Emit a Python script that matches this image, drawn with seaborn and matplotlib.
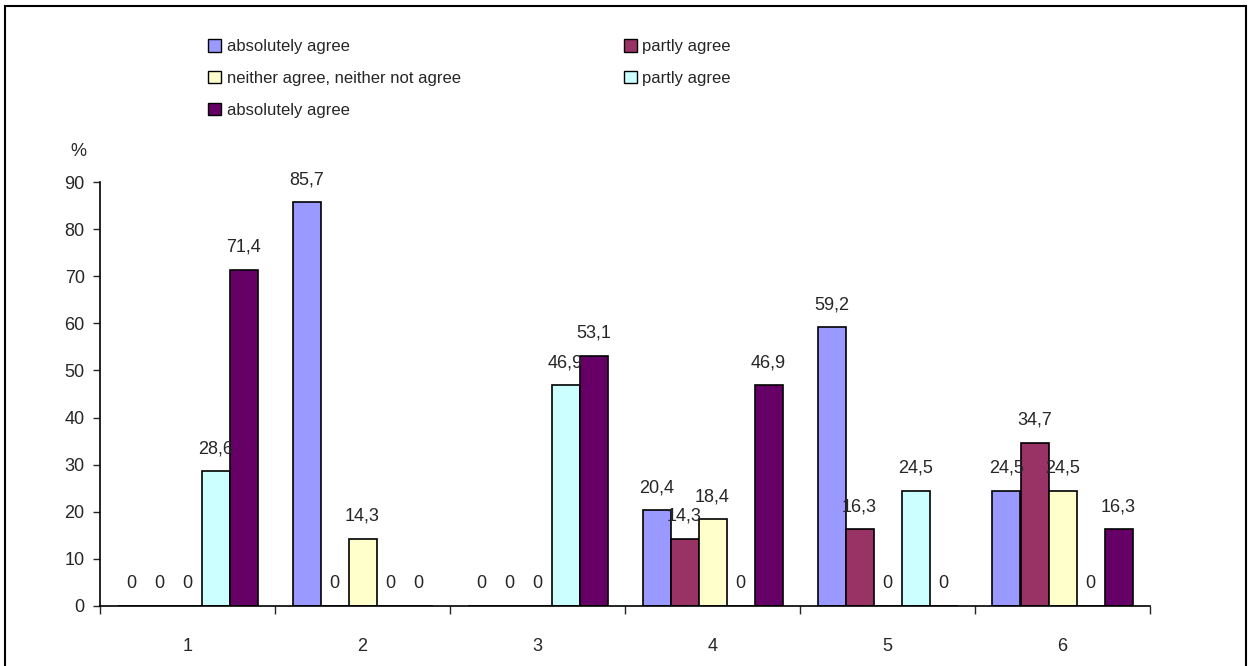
import pandas as pd
import matplotlib.pyplot as plt
import matplotlib.patches as mpatches
import seaborn as sns

groups = ['1', '2', '3', '4', '5', '6']
series_keys = ['s1', 's2', 's3', 's4', 's5']
series_labels = ['absolutely agree', 'partly agree', 'neither agree, neither not agree',
                 'partly agree', 'absolutely agree']
colors = ['#9999FF', '#993366', '#FFFFCC', '#CCFFFF', '#660066']

s1 = [0, 85.7, 0, 20.4, 59.2, 24.5]
s2 = [0, 0, 0, 14.3, 16.3, 34.7]
s3 = [0, 14.3, 0, 18.4, 0, 24.5]
s4 = [28.6, 0, 46.9, 0, 24.5, 0]
s5 = [71.4, 0, 53.1, 46.9, 0, 16.3]

rows = []
for key, vals in zip(series_keys, [s1, s2, s3, s4, s5]):
    for g, v in zip(groups, vals):
        rows.append({'group': g, 'series': key, 'value': v})
df = pd.DataFrame(rows)

sns.set_style('white')
plt.rcParams['font.family'] = ['Liberation Sans', 'DejaVu Sans']

fig = plt.figure(figsize=(12.49, 6.66), dpi=100)
ax = fig.add_axes([100/1249, 1-606/666, 1050/1249, 424/666])

sns.barplot(data=df, x='group', y='value', hue='series', hue_order=series_keys,
            palette=colors, edgecolor='black', linewidth=1.2, width=0.8,
            saturation=1, errorbar=None, ax=ax)

for cont, vals in zip(ax.containers, [s1, s2, s3, s4, s5]):
    labs = ['0' if v == 0 else f'{v:.1f}'.replace('.', ',') for v in vals]
    ax.bar_label(cont, labels=labs, padding=10, fontsize=13)

ax.set_xlim(-0.5, 5.5)
ax.set_ylim(0, 90)
ax.set_yticks(range(0, 91, 10))
ax.tick_params(axis='y', direction='out', length=5, width=1, labelsize=13, left=True, pad=6)
ax.set_xticks([i - 0.5 for i in range(7)])
ax.set_xticklabels([])
ax.set_xticks(range(6), minor=True)
ax.set_xticklabels(groups, minor=True, fontsize=13)
ax.tick_params(axis='x', which='major', direction='out', length=6, width=1, bottom=True)
ax.tick_params(axis='x', which='minor', length=0, pad=23)
ax.set_xlabel('')
ax.set_ylabel('')
for sp in ['top', 'right']:
    ax.spines[sp].set_visible(False)
for sp in ['left', 'bottom']:
    ax.spines[sp].set_color('black')
    ax.spines[sp].set_linewidth(1.2)

fig.text(78/1249, 1-152/666, '%', ha='center', va='center', fontsize=13)

# legend: row-wise ordering in two columns
handles = [mpatches.Patch(facecolor=c, edgecolor='black', linewidth=1) for c in colors]
order = [0, 2, 4, 1, 3]
ax.legend([handles[i] for i in order], [series_labels[i] for i in order],
          ncol=2, frameon=False, fontsize=12, loc='upper left',
          bbox_to_anchor=(200/1249, 1-31/666), bbox_transform=fig.transFigure,
          handlelength=0.75, handleheight=0.75, handletextpad=0.35,
          columnspacing=9.8, labelspacing=1.0, borderpad=0)

fig.patches.append(mpatches.Rectangle((5/1249, -0.02), 1241/1249, 1.02 - 6/666,
                                      transform=fig.transFigure, fill=False,
                                      edgecolor='black', linewidth=1.5))

fig.savefig('out.png', dpi=100)
